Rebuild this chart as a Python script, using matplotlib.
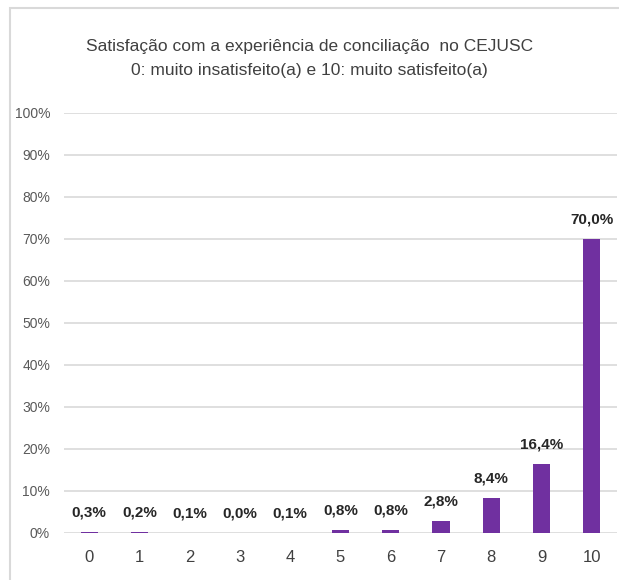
import matplotlib
matplotlib.use("Agg")
import matplotlib.pyplot as plt
from matplotlib.patches import Rectangle
from matplotlib.ticker import PercentFormatter

plt.rcParams["font.family"] = ["Liberation Sans Narrow", "Liberation Sans", "DejaVu Sans"]

CATS = ["0", "1", "2", "3", "4", "5", "6", "7", "8", "9", "10"]
VALS = [0.3, 0.2, 0.1, 0.0, 0.1, 0.8, 0.8, 2.8, 8.4, 16.4, 70.0]
LABELS = ["0,3%", "0,2%", "0,1%", "0,0%", "0,1%", "0,8%", "0,8%", "2,8%", "8,4%", "16,4%", "70,0%"]
TITLE = "Satisfação com a experiência de conciliação  no CEJUSC\n0: muito insatisfeito(a) e 10: muito satisfeito(a)"

W, H = 619, 580
fig = plt.figure(figsize=(W / 100, H / 100), dpi=100)
# chart border (cropped on the right/bottom)
fig.patches.append(Rectangle((10 / W, -0.1), 1.5, (H - 8) / H + 0.1, transform=fig.transFigure,
                             fill=False, ec="#d9d9d9", lw=1.5))

ax = fig.add_axes([64 / W, 47 / H, 553 / W, 420 / H])
x = list(range(len(CATS)))
bars = ax.bar(x, VALS, width=0.34, color="#7030a0", zorder=3)
for b, lab in zip(bars, LABELS):
    ax.annotate(lab, (b.get_x() + b.get_width() / 2, b.get_height()), xytext=(0, 9),
                textcoords="offset points", ha="center", va="bottom",
                fontsize=11, fontweight="bold", color="#262626")

ax.set_xlim(-0.5, 10.5)
ax.set_ylim(0, 100)
ax.set_yticks(range(0, 101, 10))
ax.yaxis.set_major_formatter(PercentFormatter(decimals=0))
ax.set_xticks(x)
ax.set_xticklabels(CATS)
ax.grid(axis="y", color="#d9d9d9", lw=1.2, zorder=0)
for s in ax.spines.values():
    s.set_visible(False)
ax.tick_params(axis="y", length=0, pad=10, labelsize=10, labelcolor="#595959")
ax.tick_params(axis="x", length=0, pad=12, labelsize=12, labelcolor="#404040")

fig.text(0.5, (H - 58) / H, TITLE, ha="center", va="center", fontsize=12.5,
         color="#404040", linespacing=1.75)

fig.savefig("out.png", dpi=100)
